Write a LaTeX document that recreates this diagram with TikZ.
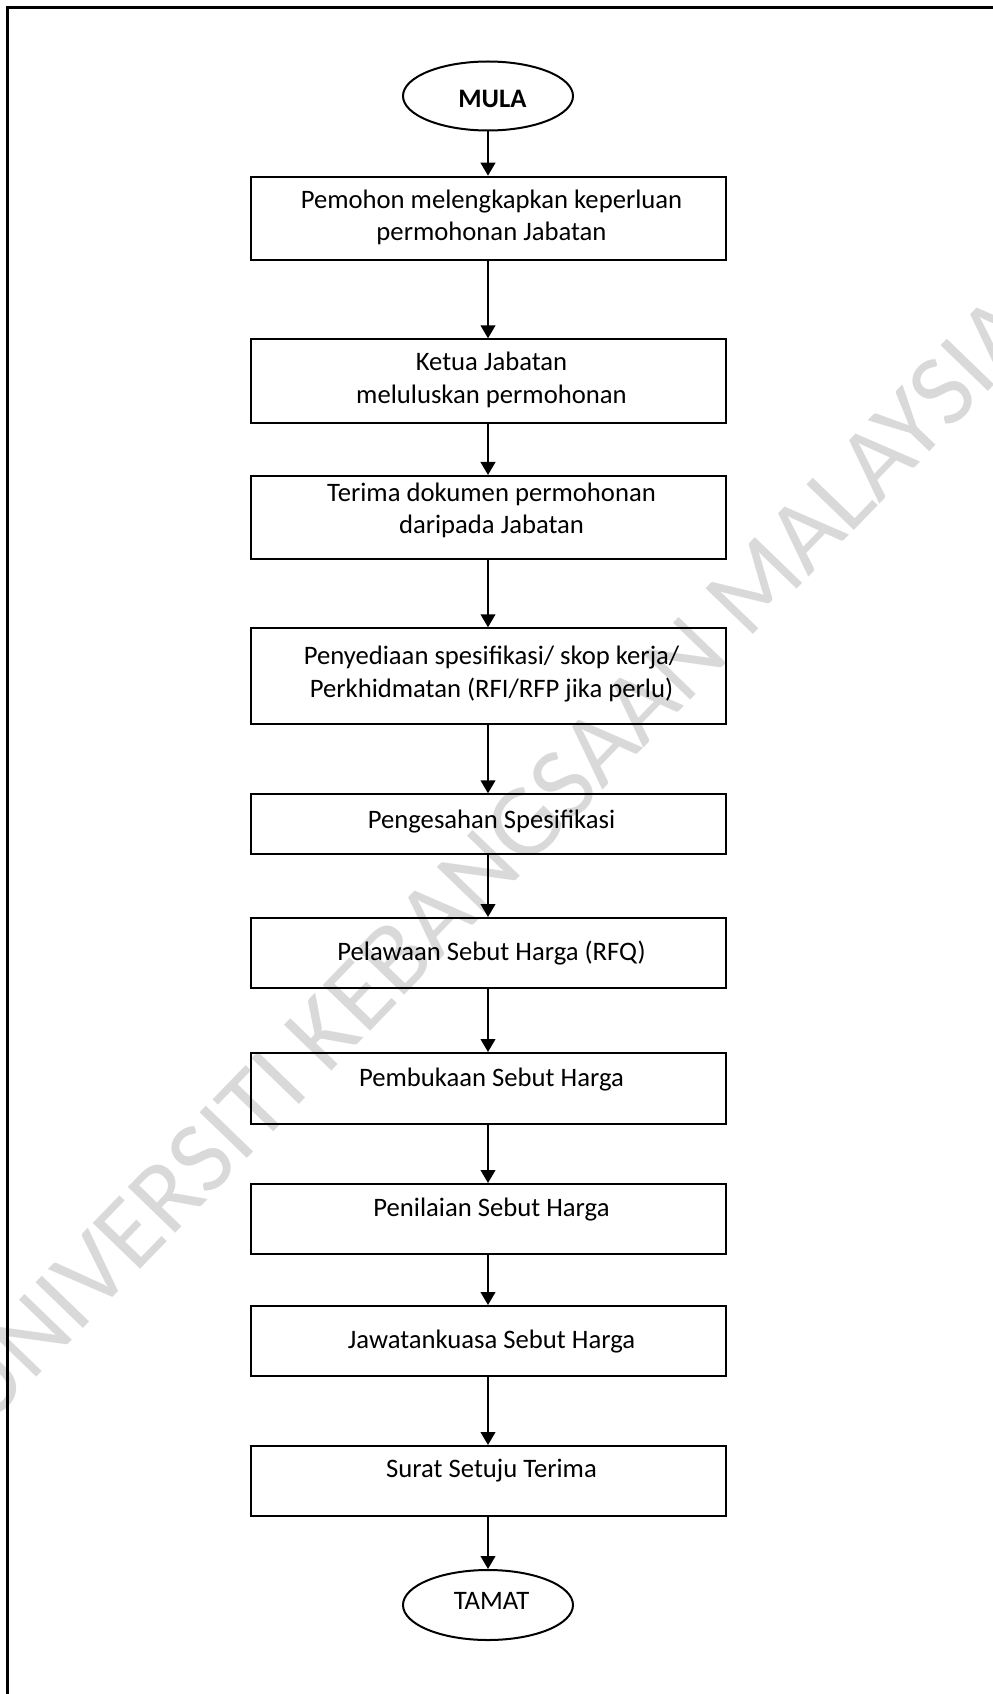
\documentclass[tikz,border=0pt]{standalone}
\usepackage{fontspec}
\setmainfont{Carlito}
\usetikzlibrary{shapes.geometric,arrows.meta}

\tikzset{
  stepbox/.style={draw=black, line width=1.5pt, rectangle, inner sep=0pt,
                  minimum width=356.25pt},
  terminal/.style={draw=black, line width=1.5pt, ellipse, inner sep=0pt,
                   minimum width=127.5pt},
  steptext/.style={inner sep=0pt, align=center, text=black,
                   font=\fontsize{20}{24.4}\selectfont},
  flow/.style={draw=black, line width=1.5pt,
               -{Triangle[width=11pt,length=9.75pt]}},
  frameline/.style={draw=black, line width=2.2pt},
  watermark/.style={inner sep=0pt, text=black!15, rotate=46,
                    font=\fontsize{77}{82}\selectfont}
}

\begin{document}
\begin{tikzpicture}[x=0.75pt,y=-0.75pt]
  \useasboundingbox (0,0) rectangle (992,1694);

  % faint diagonal watermark behind the chart
  \node[watermark] (wm) at (490,860) {UNIVERSITI KEBANGSAAN MALAYSIA};

  % page frame (left and top edges)
  \draw[frameline] (7.3,1710) -- (7.3,7.3) -- (1010,7.3);

  % terminals
  \node[terminal, minimum height=51.75pt] (mula) at (488,96) {};
  \node[steptext, font=\fontsize{20}{24.4}\selectfont\bfseries] (mulat) at (492.5,99) {MULA};
  \node[terminal, minimum height=52.5pt] (tamat) at (488,1605) {};
  \node[steptext] (tamatt) at (491.5,1601) {TAMAT};

  % process boxes
  \node[stepbox, minimum height=62.5pt]  (b1)  at (488,218.35) {};
  \node[stepbox, minimum height=62.5pt]  (b2)  at (488,381)    {};
  \node[stepbox, minimum height=62.5pt]  (b3)  at (488,517.65) {};
  \node[stepbox, minimum height=71.8pt]  (b4)  at (488,676.15) {};
  \node[stepbox, minimum height=45pt]    (b5)  at (488,824.3)  {};
  \node[stepbox, minimum height=52.5pt]  (b6)  at (488,953)    {};
  \node[stepbox, minimum height=53.25pt] (b7)  at (488,1088.5) {};
  \node[stepbox, minimum height=52.5pt]  (b8)  at (488,1219)   {};
  \node[stepbox, minimum height=52.5pt]  (b9)  at (488,1341)   {};
  \node[stepbox, minimum height=52.5pt]  (b10) at (488,1481)   {};

  % box texts
  \node[steptext] (t1)  at (491.5,217.5) {Pemohon melengkapkan keperluan\\permohonan Jabatan};
  \node[steptext] (t2)  at (491.5,380)   {Ketua Jabatan\\meluluskan permohonan};
  \node[steptext] (t3)  at (491.5,510.3) {Terima dokumen permohonan\\daripada Jabatan};
  \node[steptext] (t4)  at (491.5,674)   {Penyediaan spesifikasi/ skop kerja/\\Perkhidmatan (RFI/RFP jika perlu)};
  \node[steptext] (t5)  at (491.5,821.7) {Pengesahan Spesifikasi};
  \node[steptext] (t6)  at (491.5,953)   {Pelawaan Sebut Harga (RFQ)};
  \node[steptext] (t7)  at (491.5,1080)  {Pembukaan Sebut Harga};
  \node[steptext] (t8)  at (491.5,1210)  {Penilaian Sebut Harga};
  \node[steptext] (t9)  at (491.5,1342)  {Jawatankuasa Sebut Harga};
  \node[steptext] (t10) at (491.5,1471)  {Surat Setuju Terima};

  % connectors
  \draw[flow] (mula) -- (b1);
  \draw[flow] (b1) -- (b2);
  \draw[flow] (b2) -- (b3);
  \draw[flow] (b3) -- (b4);
  \draw[flow] (b4) -- (b5);
  \draw[flow] (b5) -- (b6);
  \draw[flow] (b6) -- (b7);
  \draw[flow] (b7) -- (b8);
  \draw[flow] (b8) -- (b9);
  \draw[flow] (b9) -- (b10);
  \draw[flow] (b10) -- (tamat);
\end{tikzpicture}
\end{document}
